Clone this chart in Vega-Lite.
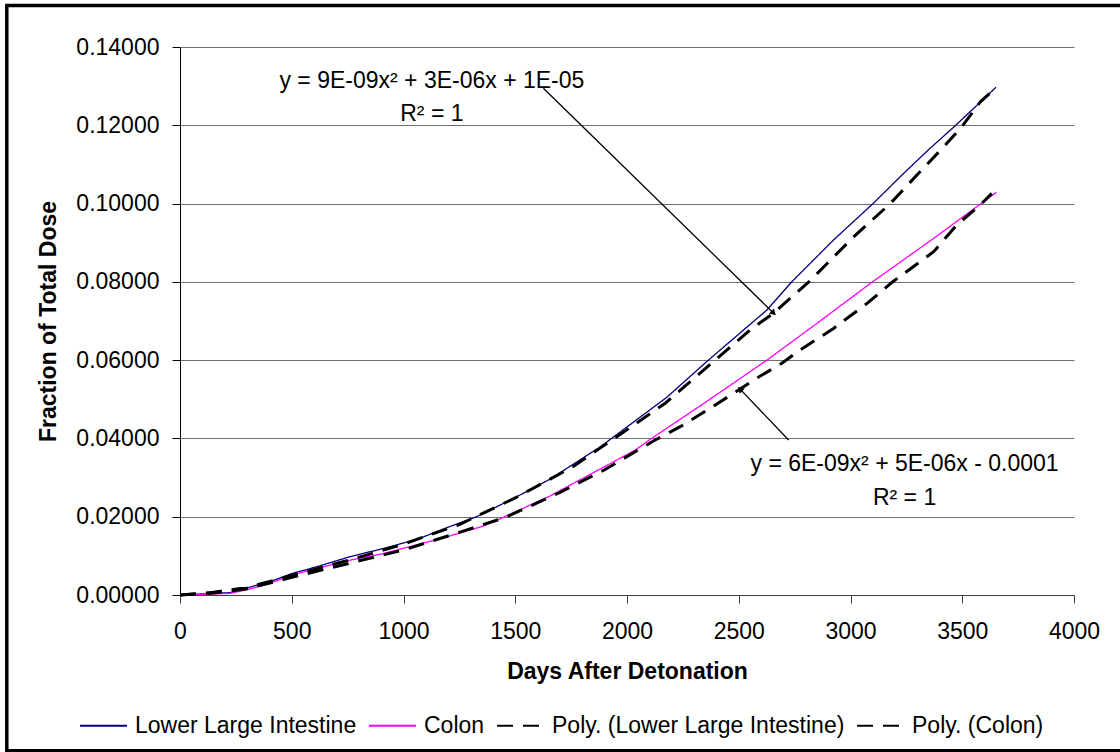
{
  "$schema": "https://vega.github.io/schema/vega-lite/v6.json",
  "autosize": {"type": "none"},
  "padding": {"left": 180, "top": 47, "right": 46, "bottom": 157},
  "width": 894,
  "height": 548,
  "background": "white",
  "config": {
    "view": {"stroke": null},
    "font": "Liberation Sans",
    "axis": {
      "labelFontSize": 23, "labelColor": "black", "labelFont": "Liberation Sans",
      "labelFlush": false, "labelOverlap": false,
      "titleFontSize": 23, "titleFontWeight": "bold", "titleColor": "black", "titleFont": "Liberation Sans",
      "tickSize": 8, "tickWidth": 1, "domainWidth": 1
    },
    "axisX": {
      "grid": false, "domainColor": "#404040", "tickColor": "#404040", "labelPadding": 17,
      "titleX": 447, "titleY": 83, "titleBaseline": "alphabetic", "titleAlign": "center"
    },
    "axisY": {
      "grid": true, "gridColor": "#707070", "gridWidth": 1,
      "domainColor": "black", "tickColor": "black", "labelPadding": 13,
      "titleX": -125, "titleY": 274, "titleAngle": -90, "titleBaseline": "alphabetic", "titleAlign": "center"
    },
    "legend": {"symbolStrokeWidth": 2}
  },
  "data": {"name": "curves", "values": [
      {"series": "Lower Large Intestine", "days": 0, "fraction": 0},
      {"series": "Lower Large Intestine", "days": 223, "fraction": 0.0006},
      {"series": "Lower Large Intestine", "days": 312, "fraction": 0.0020},
      {"series": "Lower Large Intestine", "days": 402, "fraction": 0.0034},
      {"series": "Lower Large Intestine", "days": 502, "fraction": 0.0055},
      {"series": "Lower Large Intestine", "days": 611, "fraction": 0.0072},
      {"series": "Lower Large Intestine", "days": 761, "fraction": 0.0098},
      {"series": "Lower Large Intestine", "days": 911, "fraction": 0.0119},
      {"series": "Lower Large Intestine", "days": 1060, "fraction": 0.0142},
      {"series": "Lower Large Intestine", "days": 1208, "fraction": 0.0175},
      {"series": "Lower Large Intestine", "days": 1327, "fraction": 0.0200},
      {"series": "Lower Large Intestine", "days": 1507, "fraction": 0.0251},
      {"series": "Lower Large Intestine", "days": 1656, "fraction": 0.0296},
      {"series": "Lower Large Intestine", "days": 1879, "fraction": 0.0378},
      {"series": "Lower Large Intestine", "days": 1931, "fraction": 0.0400},
      {"series": "Lower Large Intestine", "days": 2178, "fraction": 0.0505},
      {"series": "Lower Large Intestine", "days": 2364, "fraction": 0.0600},
      {"series": "Lower Large Intestine", "days": 2626, "fraction": 0.0728},
      {"series": "Lower Large Intestine", "days": 2737, "fraction": 0.0800},
      {"series": "Lower Large Intestine", "days": 2924, "fraction": 0.0907},
      {"series": "Lower Large Intestine", "days": 3101, "fraction": 0.1000},
      {"series": "Lower Large Intestine", "days": 3223, "fraction": 0.1069},
      {"series": "Lower Large Intestine", "days": 3348, "fraction": 0.1137},
      {"series": "Lower Large Intestine", "days": 3469, "fraction": 0.1199},
      {"series": "Lower Large Intestine", "days": 3651, "fraction": 0.1297},
      {"series": "Colon", "days": 0, "fraction": 0},
      {"series": "Colon", "days": 223, "fraction": 0.0004},
      {"series": "Colon", "days": 312, "fraction": 0.0015},
      {"series": "Colon", "days": 402, "fraction": 0.0030},
      {"series": "Colon", "days": 502, "fraction": 0.0051},
      {"series": "Colon", "days": 611, "fraction": 0.0068},
      {"series": "Colon", "days": 761, "fraction": 0.0089},
      {"series": "Colon", "days": 911, "fraction": 0.0106},
      {"series": "Colon", "days": 1060, "fraction": 0.0128},
      {"series": "Colon", "days": 1208, "fraction": 0.0151},
      {"series": "Colon", "days": 1357, "fraction": 0.0176},
      {"series": "Colon", "days": 1454, "fraction": 0.0200},
      {"series": "Colon", "days": 1656, "fraction": 0.0253},
      {"series": "Colon", "days": 2036, "fraction": 0.0370},
      {"series": "Colon", "days": 2110, "fraction": 0.0400},
      {"series": "Colon", "days": 2327, "fraction": 0.0483},
      {"series": "Colon", "days": 2626, "fraction": 0.0600},
      {"series": "Colon", "days": 2850, "fraction": 0.0694},
      {"series": "Colon", "days": 3096, "fraction": 0.0799},
      {"series": "Colon", "days": 3372, "fraction": 0.0911},
      {"series": "Colon", "days": 3653, "fraction": 0.1029},
      {"series": "Poly. (Lower Large Intestine)", "days": 0, "fraction": 0.00001},
      {"series": "Poly. (Lower Large Intestine)", "days": 150, "fraction": 0.0007},
      {"series": "Poly. (Lower Large Intestine)", "days": 300, "fraction": 0.0019},
      {"series": "Poly. (Lower Large Intestine)", "days": 500, "fraction": 0.0050},
      {"series": "Poly. (Lower Large Intestine)", "days": 750, "fraction": 0.0088},
      {"series": "Poly. (Lower Large Intestine)", "days": 1000, "fraction": 0.0130},
      {"series": "Poly. (Lower Large Intestine)", "days": 1250, "fraction": 0.0180},
      {"series": "Poly. (Lower Large Intestine)", "days": 1500, "fraction": 0.0248},
      {"series": "Poly. (Lower Large Intestine)", "days": 1750, "fraction": 0.0325},
      {"series": "Poly. (Lower Large Intestine)", "days": 1954, "fraction": 0.0404},
      {"series": "Poly. (Lower Large Intestine)", "days": 2171, "fraction": 0.0490},
      {"series": "Poly. (Lower Large Intestine)", "days": 2394, "fraction": 0.0600},
      {"series": "Poly. (Lower Large Intestine)", "days": 2551, "fraction": 0.0677},
      {"series": "Poly. (Lower Large Intestine)", "days": 2655, "fraction": 0.0720},
      {"series": "Poly. (Lower Large Intestine)", "days": 2812, "fraction": 0.0799},
      {"series": "Poly. (Lower Large Intestine)", "days": 3014, "fraction": 0.0915},
      {"series": "Poly. (Lower Large Intestine)", "days": 3178, "fraction": 0.1000},
      {"series": "Poly. (Lower Large Intestine)", "days": 3312, "fraction": 0.1082},
      {"series": "Poly. (Lower Large Intestine)", "days": 3417, "fraction": 0.1145},
      {"series": "Poly. (Lower Large Intestine)", "days": 3499, "fraction": 0.1197},
      {"series": "Poly. (Lower Large Intestine)", "days": 3581, "fraction": 0.1260},
      {"series": "Poly. (Lower Large Intestine)", "days": 3653, "fraction": 0.1297},
      {"series": "Poly. (Colon)", "days": 0, "fraction": 0},
      {"series": "Poly. (Colon)", "days": 150, "fraction": 0.0005},
      {"series": "Poly. (Colon)", "days": 300, "fraction": 0.0016},
      {"series": "Poly. (Colon)", "days": 500, "fraction": 0.0045},
      {"series": "Poly. (Colon)", "days": 750, "fraction": 0.0080},
      {"series": "Poly. (Colon)", "days": 1000, "fraction": 0.0115},
      {"series": "Poly. (Colon)", "days": 1250, "fraction": 0.0160},
      {"series": "Poly. (Colon)", "days": 1454, "fraction": 0.0198},
      {"series": "Poly. (Colon)", "days": 1700, "fraction": 0.0262},
      {"series": "Poly. (Colon)", "days": 1900, "fraction": 0.0320},
      {"series": "Poly. (Colon)", "days": 2126, "fraction": 0.0396},
      {"series": "Poly. (Colon)", "days": 2238, "fraction": 0.0430},
      {"series": "Poly. (Colon)", "days": 2372, "fraction": 0.0477},
      {"series": "Poly. (Colon)", "days": 2506, "fraction": 0.0526},
      {"series": "Poly. (Colon)", "days": 2566, "fraction": 0.0549},
      {"series": "Poly. (Colon)", "days": 2693, "fraction": 0.0592},
      {"series": "Poly. (Colon)", "days": 2775, "fraction": 0.0626},
      {"series": "Poly. (Colon)", "days": 2924, "fraction": 0.0681},
      {"series": "Poly. (Colon)", "days": 3074, "fraction": 0.0745},
      {"series": "Poly. (Colon)", "days": 3186, "fraction": 0.0799},
      {"series": "Poly. (Colon)", "days": 3372, "fraction": 0.0877},
      {"series": "Poly. (Colon)", "days": 3475, "fraction": 0.0945},
      {"series": "Poly. (Colon)", "days": 3587, "fraction": 0.1000},
      {"series": "Poly. (Colon)", "days": 3632, "fraction": 0.1026}
  ]},
  "layer": [
    {
      "mark": {"type": "line", "clip": false},
      "encoding": {
        "x": {
          "field": "days", "type": "quantitative",
          "scale": {"domain": [0, 4000], "nice": false, "zero": false},
          "axis": {"orient": "bottom", "title": "Days After Detonation", "values": [0, 500, 1000, 1500, 2000, 2500, 3000, 3500, 4000], "format": "d"}
        },
        "y": {
          "field": "fraction", "type": "quantitative",
          "scale": {"domain": [0, 0.14], "nice": false, "zero": false},
          "axis": {"orient": "left", "title": "Fraction of Total Dose", "values": [0, 0.02, 0.04, 0.06, 0.08, 0.1, 0.12, 0.14], "format": ".5f"}
        },
        "color": {
          "field": "series", "type": "nominal",
          "scale": {
            "domain": ["Lower Large Intestine", "Colon", "Poly. (Lower Large Intestine)", "Poly. (Colon)"],
            "range": ["#000080", "#FF00FF", "#000000", "#000000"]
          },
          "legend": {
            "title": null, "orient": "none", "legendX": -101, "legendY": 654,
            "direction": "horizontal", "symbolType": "stroke", "symbolSize": 2209,
            "labelFontSize": 23, "labelFont": "Liberation Sans", "labelColor": "black",
            "labelOffset": 7, "columnPadding": 8, "labelLimit": 600
          }
        },
        "strokeDash": {
          "field": "series", "type": "nominal",
          "scale": {
            "domain": ["Lower Large Intestine", "Colon", "Poly. (Lower Large Intestine)", "Poly. (Colon)"],
            "range": [[1, 0], [1, 0], [16, 10], [16, 10]]
          },
          "legend": {
            "title": null, "orient": "none", "legendX": -101, "legendY": 654,
            "direction": "horizontal", "symbolType": "stroke", "symbolSize": 2209,
            "labelFontSize": 23, "labelFont": "Liberation Sans", "labelColor": "black",
            "labelOffset": 7, "columnPadding": 8, "labelLimit": 600
          }
        },
        "strokeWidth": {
          "condition": {"test": "indexof(datum.series, 'Poly') === 0", "value": 3},
          "value": 1.3
        }
      }
    },
    {
      "data": {"values": [
        {"id": "upper", "days": 1626, "fraction": 0.12946, "days2": 2656, "fraction2": 0.0720},
        {"id": "lower", "days": 2723, "fraction": 0.0396, "days2": 2506, "fraction2": 0.0526}
      ]},
      "layer": [
        {
          "mark": {"type": "rule", "color": "black", "strokeWidth": 1.3},
          "encoding": {
            "x": {"field": "days", "type": "quantitative"},
            "y": {"field": "fraction", "type": "quantitative"},
            "x2": {"field": "days2"},
            "y2": {"field": "fraction2"}
          }
        },
        {
          "transform": [{"filter": "datum.id === 'upper'"}],
          "mark": {"type": "point", "shape": "triangle-right", "filled": true, "color": "black", "size": 50, "angle": 44, "opacity": 1},
          "encoding": {
            "x": {"field": "days2", "type": "quantitative"},
            "y": {"field": "fraction2", "type": "quantitative"}
          }
        },
        {
          "transform": [{"filter": "datum.id === 'lower'"}],
          "mark": {"type": "point", "shape": "triangle-right", "filled": true, "color": "black", "size": 50, "angle": 226, "opacity": 1},
          "encoding": {
            "x": {"field": "days2", "type": "quantitative"},
            "y": {"field": "fraction2", "type": "quantitative"}
          }
        }
      ]
    },
    {
      "data": {"values": [
        {"label": "y = 9E-09x² + 3E-06x + 1E-05", "days": 1127, "fraction": 0.1296},
        {"label": "R² = 1", "days": 1127, "fraction": 0.1212},
        {"label": "y = 6E-09x² + 5E-06x - 0.0001", "days": 3242, "fraction": 0.0317},
        {"label": "R² = 1", "days": 3242, "fraction": 0.0230}
      ]},
      "mark": {"type": "text", "align": "center", "baseline": "alphabetic", "fontSize": 23, "font": "Liberation Sans", "color": "black"},
      "encoding": {
        "x": {"field": "days", "type": "quantitative"},
        "y": {"field": "fraction", "type": "quantitative"},
        "text": {"field": "label"}
      }
    },
    {
      "data": {"values": [{}]},
      "mark": {"type": "rect", "fill": "transparent", "stroke": "black", "strokeWidth": 3.5, "clip": false},
      "encoding": {
        "x": {"datum": -775, "type": "quantitative",
          "axis": {"orient": "bottom", "title": "Days After Detonation", "values": [0, 500, 1000, 1500, 2000, 2500, 3000, 3500, 4000], "format": "d"}},
        "x2": {"datum": 4228},
        "y": {"datum": 0.1506, "type": "quantitative",
          "axis": {"orient": "left", "title": "Fraction of Total Dose", "values": [0, 0.02, 0.04, 0.06, 0.08, 0.1, 0.12, 0.14], "format": ".5f"}},
        "y2": {"datum": -0.0398}
      }
    }
  ]
}
